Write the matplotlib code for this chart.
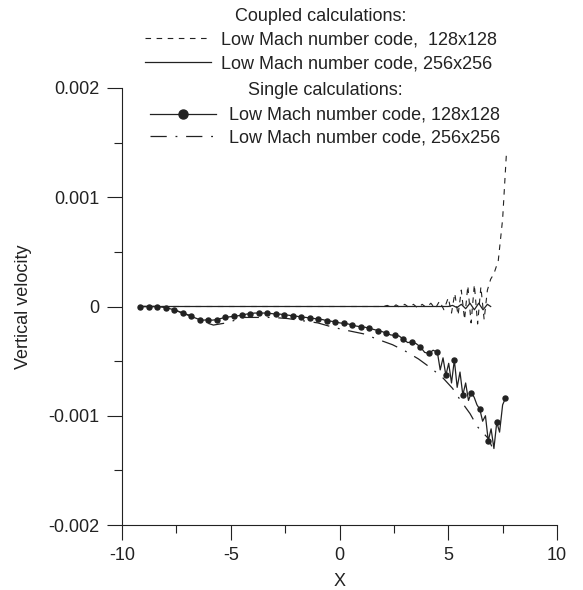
import numpy as np
import matplotlib.pyplot as plt
from matplotlib.ticker import MultipleLocator

plt.rcParams['font.family'] = ['Liberation Sans', 'DejaVu Sans']
plt.rcParams['axes.unicode_minus'] = False

# single calculation 128x128: values at marker nodes (units of 1e-3)
x0, dx = -9.17, 0.3906
marker_y = [0, 0, 0, -0.01, -0.03, -0.06, -0.09, -0.12, -0.12, -0.12,
            -0.10, -0.09, -0.08, -0.065, -0.06, -0.06, -0.07, -0.075, -0.085, -0.095,
            -0.105, -0.115, -0.13, -0.14, -0.155, -0.17, -0.185, -0.20, -0.22, -0.245,
            -0.265, -0.30, -0.325, -0.37, -0.43, -0.42, -0.63, -0.49, -0.81, -0.79,
            -0.94, -1.23, -1.06, -0.84]
# values halfway between markers, up to x = 4.5
mid_y = [0, 0, -0.005, -0.02, -0.045, -0.075, -0.105, -0.125, -0.125, -0.11,
         -0.095, -0.085, -0.07, -0.06, -0.06, -0.065, -0.07, -0.08, -0.09, -0.10,
         -0.11, -0.12, -0.135, -0.15, -0.16, -0.18, -0.19, -0.21, -0.23, -0.26,
         -0.27, -0.33, -0.34, -0.42, -0.40]
# oscillating tail of the same curve
tail_x = [4.63, 4.76, 4.89, 5.02, 5.15, 5.28, 5.41, 5.54, 5.67, 5.80, 5.93, 6.06,
          6.19, 6.32, 6.45, 6.58, 6.71, 6.84, 6.97, 7.10, 7.23, 7.36, 7.50, 7.63]
tail_y = [-0.58, -0.47, -0.63, -0.52, -0.70, -0.49, -0.74, -0.60, -0.81, -0.70, -0.86, -0.79,
          -0.83, -0.90, -0.94, -1.05, -1.00, -1.23, -1.12, -1.30, -1.06, -1.15, -0.90, -0.84]

# single calculation 256x256 (dash-dot)
s256_x = [-9.17, -8.4, -7.6, -7.2, -6.9, -6.4, -5.8, -5.2, -4.4, -3.75, -3.08, -2.4,
          -1.7, -1.0, -0.3, 0.37, 1.1, 1.75, 2.44, 3.04, 3.63, 4.18, 4.74, 5.2,
          5.6, 6.0, 6.34, 6.85, 7.0]
s256_y = [0, 0, -0.03, -0.06, -0.08, -0.13, -0.17, -0.15, -0.10, -0.10, -0.10, -0.11,
          -0.13, -0.15, -0.19, -0.22, -0.25, -0.30, -0.35, -0.41, -0.48, -0.56, -0.65, -0.75,
          -0.87, -0.98, -1.10, -1.21, -1.28]

# coupled calculation 128x128 (dashed)
c128_x = [-9.17, 2.0, 2.2, 2.4, 2.6, 2.8, 3.0, 3.2, 3.4, 3.6, 3.8, 4.0, 4.2, 4.4, 4.6,
          4.8, 5.0, 5.15, 5.3, 5.45, 5.6, 5.75, 5.9, 6.05, 6.2, 6.35, 6.5, 6.65, 6.8,
          6.95, 7.1, 7.3, 7.5, 7.68]
c128_y = [0, 0, 0.01, -0.01, 0.015, -0.01, 0.02, -0.01, 0.02, -0.015, 0.02, -0.01, 0.03,
          -0.02, 0.05, -0.03, 0.08, -0.06, 0.12, -0.08, 0.15, -0.12, 0.19, -0.15, 0.2,
          -0.16, 0.18, -0.12, 0.15, 0.25, 0.3, 0.42, 0.8, 1.42]

# coupled calculation 256x256 (solid)
c256_x = [-9.17, 5.0, 5.2, 5.4, 5.6, 5.8, 6.0, 6.2, 6.4, 6.6, 6.8, 6.95]
c256_y = [0, 0, 0.01, -0.01, 0.02, -0.02, 0.03, -0.03, 0.03, -0.03, 0.02, 0]

n = len(marker_y)
mx = x0 + dx * np.arange(n)
m = len(mid_y)
head_x = np.empty(2 * m + 1)
head_y = np.empty(2 * m + 1)
head_x[0::2] = mx[:m + 1]
head_x[1::2] = mx[:m] + dx / 2
head_y[0::2] = marker_y[:m + 1]
head_y[1::2] = mid_y
fx = np.concatenate([head_x, tail_x])
fy = np.concatenate([head_y, tail_y])

fig = plt.figure(figsize=(5.83, 5.9), dpi=100)
ax = fig.add_axes([122 / 583, 1 - 525 / 590, 435 / 583, 437 / 590])
k = 1e-3
col = '#222222'

h1, = ax.plot(c128_x, np.array(c128_y) * k, color=col, lw=0.8, ls=(0, (5, 5)))
h2, = ax.plot(c256_x, np.array(c256_y) * k, color=col, lw=0.9)
ax.plot(fx, fy * k, color=col, lw=0.9)
ax.plot(mx, np.array(marker_y) * k, 'o', color=col, ms=3.6)
h3, = ax.plot([], [], '-o', color=col, lw=0.9, ms=6.5)
h4, = ax.plot(s256_x, np.array(s256_y) * k, color=col, lw=0.9, ls=(0, (13, 7, 1.5, 7)))

ax.set_xlim(-10, 10)
ax.set_ylim(-0.002, 0.002)
ax.set_xticks([-10, -5, 0, 5, 10])
ax.set_xticklabels(['-10', '-5', '0', '5', '10'])
ax.set_yticks([-0.002, -0.001, 0, 0.001, 0.002])
ax.set_yticklabels(['-0.002', '-0.001', '0', '0.001', '0.002'])
ax.xaxis.set_minor_locator(MultipleLocator(2.5))
ax.yaxis.set_minor_locator(MultipleLocator(0.0005))
ax.tick_params(which='major', length=11, width=0.8, labelsize=13, pad=5, colors=col)
ax.tick_params(which='minor', length=6, width=0.8, colors=col)
for s in ['top', 'right']:
    ax.spines[s].set_visible(False)
for s in ['left', 'bottom']:
    ax.spines[s].set_linewidth(0.8)
    ax.spines[s].set_color(col)

ax.set_xlabel('X', fontsize=13, color=col, labelpad=6)
ax.set_ylabel('Vertical velocity', fontsize=13, color=col, labelpad=12)

lab128 = 'Low Mach number code,  128x128'
lab256 = 'Low Mach number code, 256x256'
leg1 = ax.legend([h1, h2], [lab128, 'Low Mach number code, 256x256'],
                 title='Coupled calculations:', loc='center',
                 bbox_to_anchor=(321 / 583, 1 - 40 / 590), bbox_transform=fig.transFigure,
                 frameon=False, fontsize=13, title_fontsize=13, handlelength=3.7,
                 handletextpad=0.55, borderpad=0, labelspacing=0.38)
ax.add_artist(leg1)
leg2 = ax.legend([h3, h4], ['Low Mach number code, 128x128', lab256],
                 title='Single calculations:', loc='center',
                 bbox_to_anchor=(325 / 583, 1 - 114 / 590), bbox_transform=fig.transFigure,
                 frameon=False, fontsize=13, title_fontsize=13, handlelength=3.7,
                 handletextpad=0.7, borderpad=0, labelspacing=0.3)
leg2._legend_box.sep = 6
for leg in (leg1, leg2):
    for t in leg.get_texts():
        t.set_color(col)
    leg.get_title().set_color(col)

fig.savefig('out.png', dpi=100)
